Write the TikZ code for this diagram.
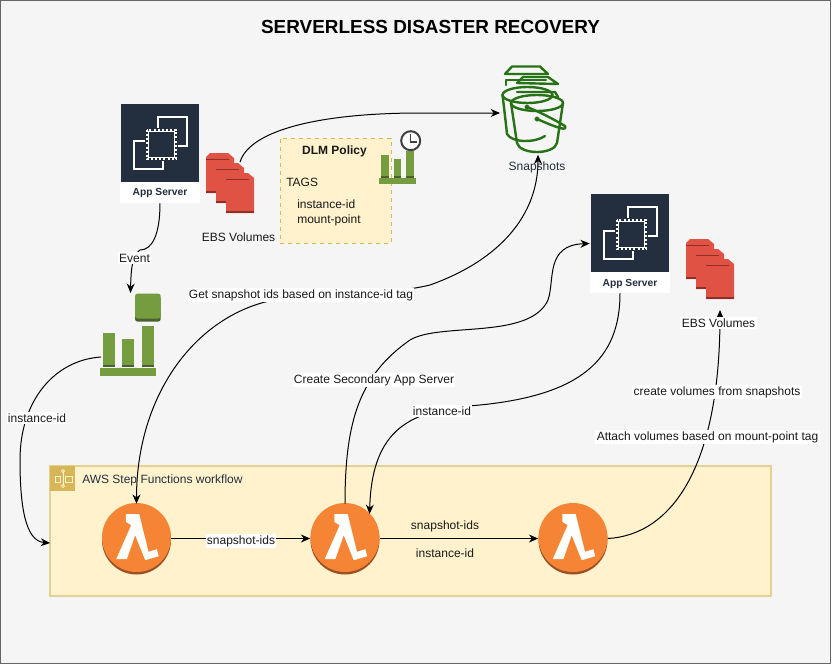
\documentclass[tikz,border=0pt]{standalone}
\usepackage{fontspec}
\setmainfont{Liberation Sans}
\usetikzlibrary{arrows.meta}
\definecolor{bgcol}{HTML}{F5F5F5}
\definecolor{navy}{HTML}{232F3E}
\definecolor{ebsred}{HTML}{E05243}
\definecolor{ebsdark}{HTML}{8C3123}
\definecolor{cwgreen}{HTML}{759C3E}
\definecolor{cwdark}{HTML}{4B612C}
\definecolor{s3green}{HTML}{277116}
\definecolor{lamorange}{HTML}{F58534}
\definecolor{lamdark}{HTML}{9D5025}
\definecolor{noteyel}{HTML}{FFF2CC}
\definecolor{notegold}{HTML}{D6B656}
\tikzset{
  ec2icon/.pic={
    \fill[navy] (-39,-39) rectangle (39,39);
    \draw[white, line width=0.9pt] (-2,-15) -- (-2,-26) -- (27,-26) -- (27,3) -- (18,3);
    \draw[white, line width=0.9pt] (-15,-2) -- (-26,-2) -- (-26,26) -- (3,26) -- (3,18);
    \draw[white, line width=2pt, dash pattern=on 1.5pt off 1.6pt] (-13,-13) rectangle (16,16);
    \draw[white, fill=navy, line width=1pt] (-11.5,-11.5) rectangle (14.5,14.5);
  },
  ebspage/.pic={
    \fill[ebsred] (0,4) -- (4,0) -- (22,0) -- (28,5) -- (28,40) -- (0,40) -- cycle;
    \fill[ebsdark] (0,38) rectangle (28,40);
    \fill[ebsdark] (0,5.5) rectangle (23,7);
  },
  ebsicon/.pic={
    \pic at (-24,-30) {ebspage};
    \pic at (-14,-20) {ebspage};
    \pic at (-4,-10) {ebspage};
  },
  cwbars/.pic={
    \fill[cwgreen] (2.5,-43) rectangle (15,-10);
    \fill[cwgreen] (22,-37) rectangle (34,-10);
    \fill[cwgreen] (41.5,-50) rectangle (53.5,-10);
    \fill[cwdark] (2.5,-11.5) rectangle (15,-9);
    \fill[cwdark] (22,-11.5) rectangle (34,-9);
    \fill[cwdark] (41.5,-11.5) rectangle (53.5,-9);
    \fill[cwgreen] (0,-8) rectangle (56,0);
  },
  lamicon/.pic={
    \fill[lamdark] (0,1.5) circle [radius=34.5];
    \fill[lamorange] (0,-1) circle [radius=34.5];
    \fill[white] (-10.7,-24.3) -- (2.7,-24.3) -- (12,13.3) -- (20.3,10.7) -- (22.3,17.7) -- (8.7,21.7)
      -- (-1.3,-3.3) -- (-9.7,20.7) -- (-20.3,20.7) -- (-5.3,-13.3) -- (-10.7,-16.7) -- cycle;
  },
}
\begin{document}
\begin{tikzpicture}[x=0.75pt, y=-0.75pt, font=\fontsize{9pt}{11pt}\selectfont]
    \tikzstyle{srv} += [rectangle, minimum width=60pt, minimum height=74.25pt, inner sep=0pt];
    \tikzstyle{lam} += [circle, minimum size=51.75pt, inner sep=0pt];
    \tikzstyle{txt} += [inner sep=0pt, text=black!90];
    \tikzstyle{lbl} += [inner sep=1pt, fill=white, text=black!90];
    \tikzstyle{wire} += [black, line width=0.75pt];
    \tikzstyle{tip} += [-{Stealth[length=7pt, width=6pt]}];
    \useasboundingbox (0,0) rectangle (832,664);
    \node (back) at (415.5,331.75) [draw=black!60, fill=bgcol, line width=0.9pt, minimum width=622.5pt, minimum height=497.25pt, inner sep=0pt]{};
    \node (title) at (430.5,27) [font=\fontsize{14.2pt}{16pt}\selectfont\bfseries, inner sep=0pt]{SERVERLESS DISASTER RECOVERY};

    % workflow box
    \node (flow) at (410.5,531) [draw=notegold!65, fill=noteyel, line width=0.9pt, minimum width=540.75pt, minimum height=97.5pt, inner sep=0pt]{};
    \node (flow_ic) at (62.5,478.5) [fill=notegold, minimum size=18.75pt, inner sep=0pt]{};
    \draw[noteyel, line width=0.5pt] (63,471) -- (63,486);
    \draw[noteyel, line width=0.5pt] (63,471) circle [radius=1.6];
    \draw[noteyel, line width=0.5pt] (63,486) circle [radius=1.6];
    \draw[noteyel, line width=0.5pt] (55,476) rectangle (60,482);
    \draw[noteyel, line width=0.5pt] (65,476) rectangle (72.5,482);
    \node (flow_t) at (82,480) [txt, anchor=west, text=navy]{AWS Step Functions workflow};

    % icons
    \pic at (160,143) {ec2icon};
    \pic at (630,233) {ec2icon};
    \pic at (230,183) {ebsicon};
    \pic at (710,269) {ebsicon};
    \pic at (100,376) {cwbars};
    \fill[cwdark, rounded corners=2pt] (135,296) rectangle (160.7,321.7);
    \fill[cwgreen, rounded corners=2pt] (135,293.5) rectangle (160.7,318.5);
    \pic at (136.5,538.5) {lamicon};
    \pic at (345,538.5) {lamicon};
    \pic at (573,538.5) {lamicon};

    % bucket
    \begin{scope}[s3green, line width=1.8pt, line join=round, line cap=round]
      \draw (505,74) -- (512,66.5) -- (540,66.5) -- (548,74) -- cycle;
      \draw (506,85) -- (506,80) -- (546,80);
      \draw (517,83) -- (523,77) -- (548,77) -- (558,84) -- cycle;
      \draw (517,92) -- (555,92) -- (558,97);
      \draw (527.5,95) circle [x radius=25, y radius=8];
      \draw (502.5,95) .. controls (505,115) and (506,125) .. (507,134) .. controls (512,143) and (535,143) .. (545,136);
      \draw (537,103) circle [x radius=26, y radius=8];
      \draw (511,103) -- (517,143) .. controls (520,155) and (554,155) .. (557,143) -- (563,103);
      \draw (527,107) .. controls (540,112) and (555,120) .. (565,126) .. controls (567,131) and (560,129) .. (537,119);
      \filldraw[fill=s3green] (537,119) circle [radius=1.5];
      \filldraw[fill=s3green] (527,107) circle [radius=1.5];
    \end{scope}

    % note box
    \node (dlm) at (335.5,190.5) [draw=notegold, dashed, fill=noteyel, line width=0.5pt, minimum width=83.25pt, minimum height=78.75pt, inner sep=0pt]{};
    \node (dlm_t) at (334.5,151.5) [txt, font=\fontsize{9pt}{11pt}\selectfont\bfseries]{DLM Policy};
    \node (dlm_a) at (286,182) [txt, anchor=west]{TAGS};
    \node (dlm_b) at (297,204) [txt, anchor=west]{instance-id};
    \node (dlm_c) at (297,220) [txt, anchor=west]{mount-point};
    \pic[scale=0.66] at (379,183.5) {cwbars};
    \draw[black!75, fill=white, line width=1.5pt] (410.7,140.7) circle [radius=9.5];
    \draw[black!75, line width=0.9pt] (410.7,134) -- (410.7,142) -- (416.5,142);

    % named anchors
    \node (srv_1) at (160,153.5) [srv]{};
    \node (srv_2) at (630,243.5) [srv]{};
    \node (bkt) at (533,110.5) [rectangle, minimum width=48pt, minimum height=66pt, inner sep=0pt]{};
    \node (cw_1) at (130.5,334.5) [rectangle, minimum width=45pt, minimum height=62pt, inner sep=0pt]{};
    \node (lam_1) at (136.5,538.5) [lam]{};
    \node (lam_2) at (345,538.5) [lam]{};
    \node (lam_3) at (573,538.5) [lam]{};
    \coordinate (ebs_out) at (240,162);
    \coordinate (bkt_in) at (500,113);
    \coordinate (cw_out) at (101,357);
    \coordinate (flow_in) at (50,543);
    \coordinate (vol_in) at (720,310);

    % white caption of the servers
    \fill[white] (120,182) rectangle (200,203);
    \fill[white] (590,272) rectangle (670,293);
    \node (srv_t1) at (160,193) [inner sep=0pt, text=navy, font=\fontsize{7.7pt}{9pt}\selectfont\bfseries]{App Server};
    \node (srv_t2) at (630,283.5) [inner sep=0pt, text=navy, font=\fontsize{7.7pt}{9pt}\selectfont\bfseries]{App Server};

    % connectors
    \begin{scope}[wire]
      \draw[tip] (ebs_out) .. controls (250,130) and (320,113) .. (420,113) -- (bkt_in);
      \draw[tip] (srv_1.south) .. controls (160,235) and (152,250) .. (140,250) .. controls (132,255) and (131,270) .. (cw_1.north);
      \draw[tip] (cw_out) .. controls (55,360) and (20,400) .. (20,460) .. controls (20,505) and (25,541) .. (flow_in);
      \draw[{Stealth[length=7pt, width=6pt]}-{Stealth[length=7pt, width=6pt]}] (bkt.south) ++(5,0) .. controls (538,215) and (500,260) .. (430,285) .. controls (380,297) and (310,292) .. (265,302) .. controls (190,322) and (136.5,400) .. (lam_1.north);
      \draw[tip] (lam_2.north) .. controls (345,420) and (360,375) .. (410,340) .. controls (440,322) and (530,340) .. (548,300) .. controls (555,280) and (545,245) .. (srv_2.west);
      \draw[tip] (srv_2.south) ++(-10,0) .. controls (620,360) and (580,395) .. (480,405) .. controls (420,410) and (372,420) .. (lam_2.45);
      \draw[tip] (lam_3.east) .. controls (670,535) and (720,470) .. (vol_in);
      \draw[tip] (lam_1.east) -- (lam_2.west);
      \draw[tip] (lam_2.east) -- (lam_3.west);
    \end{scope}

    % labels
    \node (bkt_t) at (537,167) [inner sep=0pt, text=navy]{Snapshots};
    \node (ebs_t1) at (238.5,237) [lbl, fill=none]{EBS Volumes};
    \node (ebs_t2) at (718.5,323) [lbl]{EBS Volumes};
    \node (ev_t) at (134.5,258) [lbl]{Event};
    \node (id_t1) at (37,418) [lbl]{instance-id};
    \node (get_t) at (301,295) [lbl]{Get snapshot ids based on instance-id tag};
    \node (new_t) at (374,380) [lbl]{Create Secondary App Server};
    \node (id_t2) at (442,411) [lbl]{instance-id};
    \node (cre_t) at (717,392) [lbl]{create volumes from snapshots};
    \node (att_t) at (707.5,437) [lbl]{Attach volumes based on mount-point tag};
    \node (snp_t1) at (241,541) [lbl]{snapshot-ids};
    \node (snp_t2) at (445,526) [txt]{snapshot-ids};
    \node (id_t3) at (445,553) [txt]{instance-id};
\end{tikzpicture}
\end{document}
